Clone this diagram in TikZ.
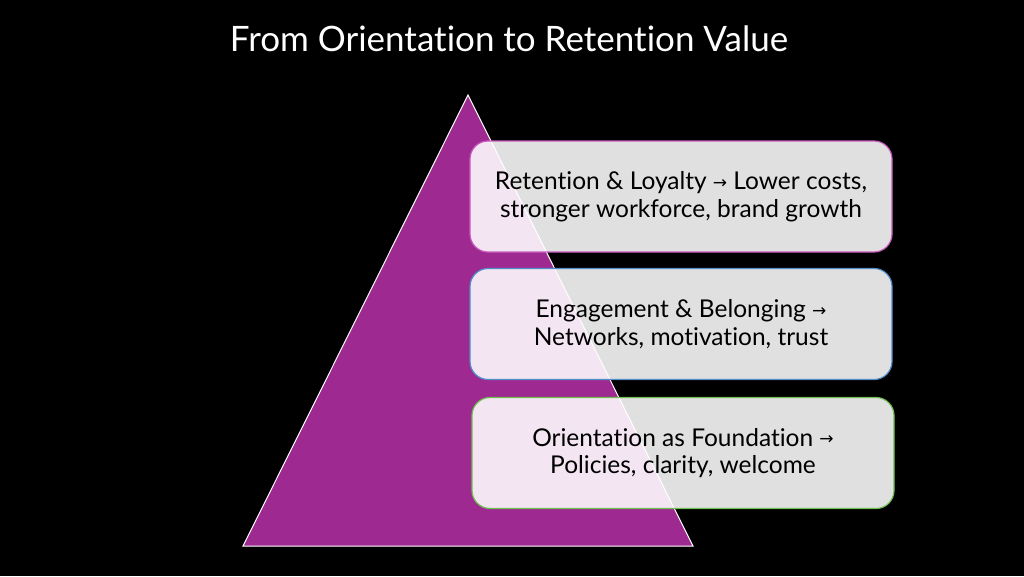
\documentclass[tikz,border=0pt]{standalone}
\usepackage{fontspec}
\setmainfont{Lato}[Ligatures=NoCommon]
\newfontfamily\arrowfont{DejaVu Sans}
\definecolor{pyr}{RGB}{158,42,145}
\definecolor{bmag}{RGB}{200,90,190}
\definecolor{bblue}{RGB}{80,140,200}
\definecolor{bgreen}{RGB}{110,190,80}
\newcommand{\rarr}{\raisebox{1.5pt}{\arrowfont\fontsize{17}{17}\selectfont →}}
\tikzset{
  lvlbox/.style={draw, line width=1.2pt, rounded corners=18pt, fill=white, fill opacity=0.88, text opacity=1,
    minimum width=422pt, minimum height=111pt, align=center, text=black,
    font=\fontsize{24.5}{27.5}\selectfont},
}
\begin{document}
\begin{tikzpicture}[x=1pt,y=-1pt]
\fill[black] (0,0) rectangle (1024,576);
\useasboundingbox (0,0) rectangle (1024,576);
\node[text=white, font=\fontsize{35}{40}\selectfont] (title) at (509,39) {From Orientation to Retention Value};
\coordinate (apex) at (468,95);
\coordinate (bl) at (243,546);
\coordinate (br) at (693,546);
\draw[white, line width=1pt, fill=pyr] (apex) -- (bl) -- (br) -- cycle;
\node[lvlbox, draw=bmag] (top) at (681,196.5) {Retention \& Loyalty \rarr{} Lower costs,\\stronger workforce, brand growth};
\node[lvlbox, draw=bblue] (mid) at (681,324) {Engagement \& Belonging \rarr\\Networks, motivation, trust};
\node[lvlbox, draw=bgreen] (bot) at (683,453) {Orientation as Foundation \rarr\\Policies, clarity, welcome};
\end{tikzpicture}
\end{document}
